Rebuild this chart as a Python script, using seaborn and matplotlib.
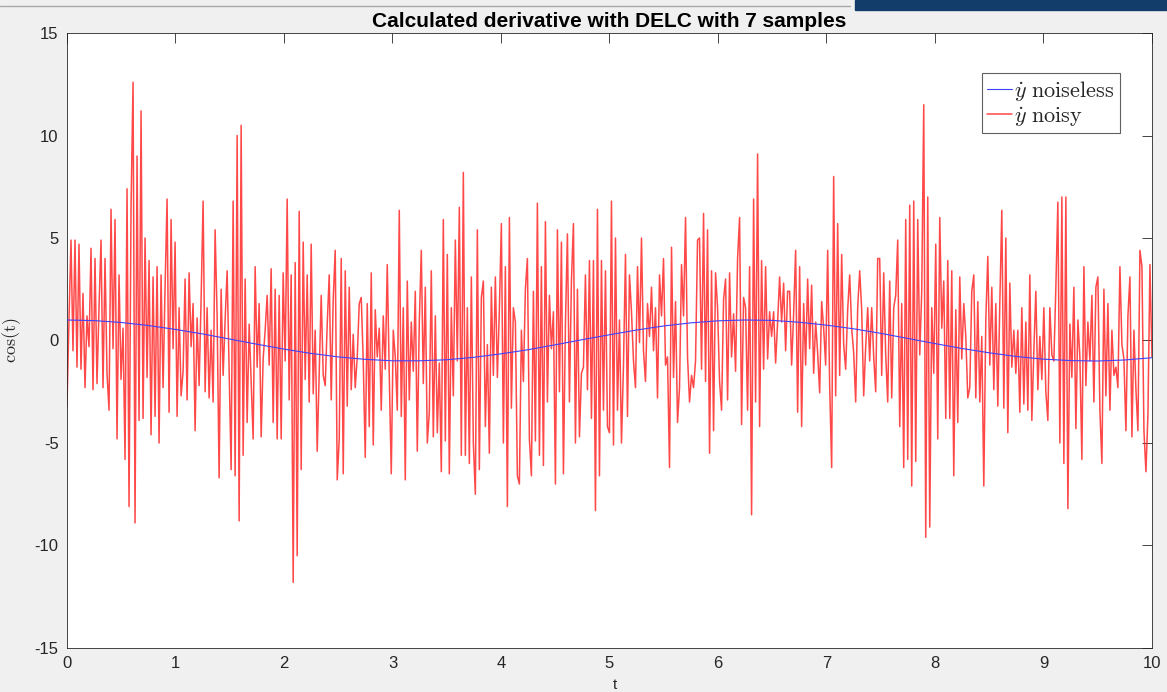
import numpy as np
import matplotlib
matplotlib.use("Agg")
import matplotlib.pyplot as plt
from matplotlib.patches import Rectangle
from matplotlib.lines import Line2D
import seaborn as sns

# --- data ---
# noiseless derivative cos(t), read every 0.25 s
t_clean = np.arange(0, 10.001, 0.25)
dy_clean = [1.00, 0.97, 0.88, 0.73, 0.54, 0.32, 0.07, -0.18, -0.42, -0.63,
            -0.80, -0.92, -0.99, -0.99, -0.94, -0.82, -0.65, -0.45, -0.21, 0.04,
            0.28, 0.51, 0.71, 0.86, 0.96, 1.00, 0.98, 0.89, 0.75, 0.57,
            0.35, 0.10, -0.15, -0.39, -0.60, -0.78, -0.91, -0.98, -1.00, -0.95,
            -0.84]

# noisy derivative (DELC, 7 samples), evenly spaced samples over 0..10
noisy_a = [-3.2, 1.0, 4.9, -0.5, 4.9, -1.3, 4.7, -1.4, 2.3, -2.3,
           1.2, -0.3, 4.5, -2.4, 4.0, -2.1, 1.6, 4.9, -2.3, 4.0,
           -1.6, -3.4, 6.4, -0.4, 5.9, -4.8, 3.2, -1.9, 0.6, -5.8,
           7.4, -8.1, 6.5, 12.6, -8.9, 9.0, -3.9, 11.2, -3.8, 5.0,
           -1.8, 3.9, -4.6, 3.1, -3.7, 3.6,
           -5.0, 3.2, -2.3, 2.6, 6.9, -3.5, 5.9, -0.4, 4.8, -3.7,
           1.6, -2.7, -1.5, 3.0, -2.9, 3.3, -0.3, 1.8, -4.4, 1.1,
           -2.2, 2.0, 6.8, -2.5, 1.6, -2.8, 0.5, -3.0, 5.4, 1.2,
           -6.7, 2.5, -1.7, 1.0, 3.4, -1.5, -6.3, 6.8, -6.6, 10.0,
           -8.8, 10.5, -5.6, 3.0, -4.0,
           0.8, -2.0, -4.8, 3.6, -1.3, 1.8, -4.7, -0.9, 0.5, 2.2,
           -1.2, 3.5, -4.0, 2.5, -4.8, 2.2, -4.8, 3.3, -1.0, 6.9,
           -2.9, 3.2, -11.8, 3.8, -10.5, 6.3, -6.3, 4.8, -1.9, 3.2,
           -3.0, 4.7, -2.6, 0.5, -5.4, -1.5, 2.2, -1.7, -2.2, 0.8,
           3.2, -2.9, 2.0, 4.4, -6.8]
noisy_b = [-4.8, 4.0, -6.5, 3.4, -3.2, 2.6, -2.4, 0.3, -2.3, -0.8,
           1.8, 2.1, -1.0, -5.7, 1.8, -4.2, 3.3, -5.1, 1.5, -0.8,
           0.6, -3.4, 1.2, -1.4, 3.7, -1.7, -6.5, 0.5, -0.8, -3.4,
           6.35, -3.7, 1.6, -6.8, 2.9, -2.9, 0.9, -1.5, 2.4, -5.4,
           0.9, 4.4, -2.1, 2.6, -5.0,
           -3.5, 3.4, -4.7, 1.2, -4.5, -1.1, -6.4, 5.9, -4.9, 4.2,
           -6.5, 1.6, -2.7, 4.9, -1.0, 6.5, -5.6, 8.2, -5.6, 1.6,
           -6.0, 3.1, -5.0, -7.5, 5.4, -6.3, 2.1, 2.9, -4.2, -0.2,
           -5.5, 2.6, -1.7, 3.1, -1.8, 1.5, 5.7, -5.0, 3.6, -8.1,
           6.0, -3.3, 1.6, 0.9, -6.6,
           -7.0, 0.5, -2.0, 2.5, 4.0, -4.8, -6.6, 2.4, -4.9, 6.7,
           -5.6, 3.6, -6.1, 5.8, -3.0, 2.2, -0.4, 1.4, -7.0, 5.4,
           -2.5, 4.8, -6.5, 0.8, 5.2, -3.0, 2.9, 5.7, -5.0, 2.5,
           -4.7, -1.6, -1.3, 3.2, -2.4, 3.9, -3.8, 3.9, -8.3, 6.4,
           -6.6, 3.9, -3.4, 3.4, -4.2]
noisy_c = [-4.5, 6.8, -5.1, 5.0, -3.4, 1.0, -5.0, -1.2, 4.2, -3.7,
           3.2, 1.4, -1.0, -2.3, 3.6, -0.1, 5.0, -0.5, -2.0, 1.8,
           0.2, 2.6, -0.5, 1.6, -2.8, 3.2, 1.2, 4.0, -1.2, -0.8,
           -6.2, 4.55, -1.8, 1.9, -4.0, -2.3, 3.7, 1.2, 6.0, -0.8,
           -3.0, -1.7, -2.3, -1.0, 4.9,
           5.0, -1.4, 6.2, -2.0, 5.4, -5.5, 3.4, -4.4, 3.3, 1.6,
           -2.0, -3.4, 2.0, 3.0, -2.9, 3.3, -0.8, 1.3, -1.5, 4.0,
           6.0, -4.1, 2.1, 1.6, -3.4, 3.6, -8.5, 6.9, -3.0, 9.1,
           -4.2, 3.9, -1.4, 3.6, -0.9, 1.4, 0.2, 1.4, -1.1, 0.9,
           3.1, 0.9, 2.8, -0.5, 2.4,
           2.4, -1.2, 1.3, 4.4, -3.5, 3.6, -4.2, 1.8, -1.2, 3.0,
           -0.4, 2.7, -1.6, 0.9, -0.6, -2.55, 1.9, 0.6, -1.2, 4.4,
           -2.2, -6.2, 8.0, -2.7, 5.7, -1.7, 4.2, -0.2, -1.4, 1.5,
           3.2, 0.6, -0.6, -3.0, 1.6, 3.4, 1.5, -2.7, -0.3, 1.6,
           -1.0, 1.6, -0.8, -2.5, 4.0]
noisy_d = [4.0, -1.7, 3.3, -0.7, -3.0, 2.9, -2.8, 1.6, 2.2, 4.9,
           -4.2, 1.8, -6.2, 5.9, -5.8, 6.6, -7.1, 6.8, -5.9, 5.9,
           -0.7, 2.4, 11.5, -9.6, 7.0, -9.1, 1.6, -1.6, 4.7, -4.8,
           6.0, 0.6, 2.9, -3.8, 3.9, -3.8, 3.4, -6.6, 1.5, -4.0,
           3.1, -0.9, 1.8, 0.2, -2.8,
           -2.3, 2.4, 3.2, -2.8, 1.9, -3.0, 0.2, -7.1, 1.0, 4.1,
           -1.2, 2.6, -2.4, 1.8, -3.2, 1.8, 6.35, -3.3, 5.0, -4.5,
           2.8, -1.3, 0.5, -1.6, 0.5, -3.5, 1.6, -3.1, 0.9, -3.4,
           3.2, -3.9, -0.5, 2.4, -2.4, 0.2, -1.9, 1.6, -2.5, -3.9,
           1.6, -0.7, -1.0, 2.6, 6.75,
           -5.0, 7.0, -6.0, 7.0, -8.2, 0.8, -1.8, 2.6, -4.3, 1.0,
           -0.8, -5.8, 3.6, -2.2, 0.9, -1.0, 2.2, -3.0, 2.6, 3.1,
           -3.4, -6.0, 2.5, -2.7, 1.8, -3.4, 0.5, -1.7, -1.3, -2.3,
           3.6, -0.2, -0.9, -4.4, 1.2, 3.1, -4.7, 0.5, -2.4, -4.4,
           4.4, 3.6, -4.4, -6.4, -3.6, 3.7, -0.8]

dy_noisy = noisy_a + noisy_b + noisy_c + noisy_d
t_noisy = np.linspace(0, 10, len(dy_noisy))

title = "Calculated derivative with DELC with 7 samples"
x_ticks = list(range(0, 11))
y_ticks = [-15, -10, -5, 0, 5, 10, 15]

# --- plot ---
sns.set_theme(style="white")
plt.rcParams['font.family'] = ['Liberation Sans', 'DejaVu Sans']
plt.rcParams['mathtext.fontset'] = 'cm'
plt.rcParams['axes.unicode_minus'] = False

fig = plt.figure(figsize=(11.67, 6.92), dpi=100, facecolor='#f0f0f0')
ax = fig.add_axes([0.0574, 0.0636, 0.9297, 0.8887])
ax.set_facecolor('white')

sns.lineplot(x=t_clean, y=dy_clean, color='#4040ff', lw=0.8, estimator=None, sort=False,
             ax=ax, label=r'$\dot{y}\ \mathrm{noiseless}$', zorder=3)
sns.lineplot(x=t_noisy, y=dy_noisy, color='#ff1a1a', lw=1.1, alpha=0.8, estimator=None,
             sort=False, ax=ax, label=r'$\dot{y}\ \mathrm{noisy}$', zorder=2)

ax.set_xlim(0, 10)
ax.set_ylim(-15, 15)
ax.set_xticks(x_ticks)
ax.set_yticks(y_ticks)
ax.tick_params(direction='in', length=7, width=0.6, top=True, right=True,
               labelsize=12, colors='#262626', pad=6)
for s in ax.spines.values():
    s.set_linewidth(0.6)
    s.set_color('#262626')

ax.set_title(title, fontsize=15, fontweight='bold', pad=4, color='black')
ax.set_ylabel(r'$\mathrm{cos(t)}$', fontsize=13)
ax.yaxis.set_label_coords(-0.0405, 0.5)
ax.set_xlabel('t', fontsize=11)
ax.xaxis.set_label_coords(0.505, -0.049)

leg = ax.legend(loc='upper right', bbox_to_anchor=(0.9705, 0.935), borderaxespad=0,
                fontsize=16, frameon=True, fancybox=False, framealpha=1,
                edgecolor='#606060', handlelength=1.1, handletextpad=0.1,
                borderpad=0.25, labelspacing=0.1)
leg.get_frame().set_linewidth(0.8)

# screenshot edges
fig.add_artist(Rectangle((855 / 1167, 1 - 10 / 692), (1167 - 855) / 1167, 10 / 692,
                         transform=fig.transFigure, color='#123d6a'))
fig.add_artist(Line2D([0, 850 / 1167], [1 - 6 / 692] * 2, transform=fig.transFigure,
                      color='#a8a8a8', lw=1))

fig.savefig('out.png', dpi=100, facecolor=fig.get_facecolor())
